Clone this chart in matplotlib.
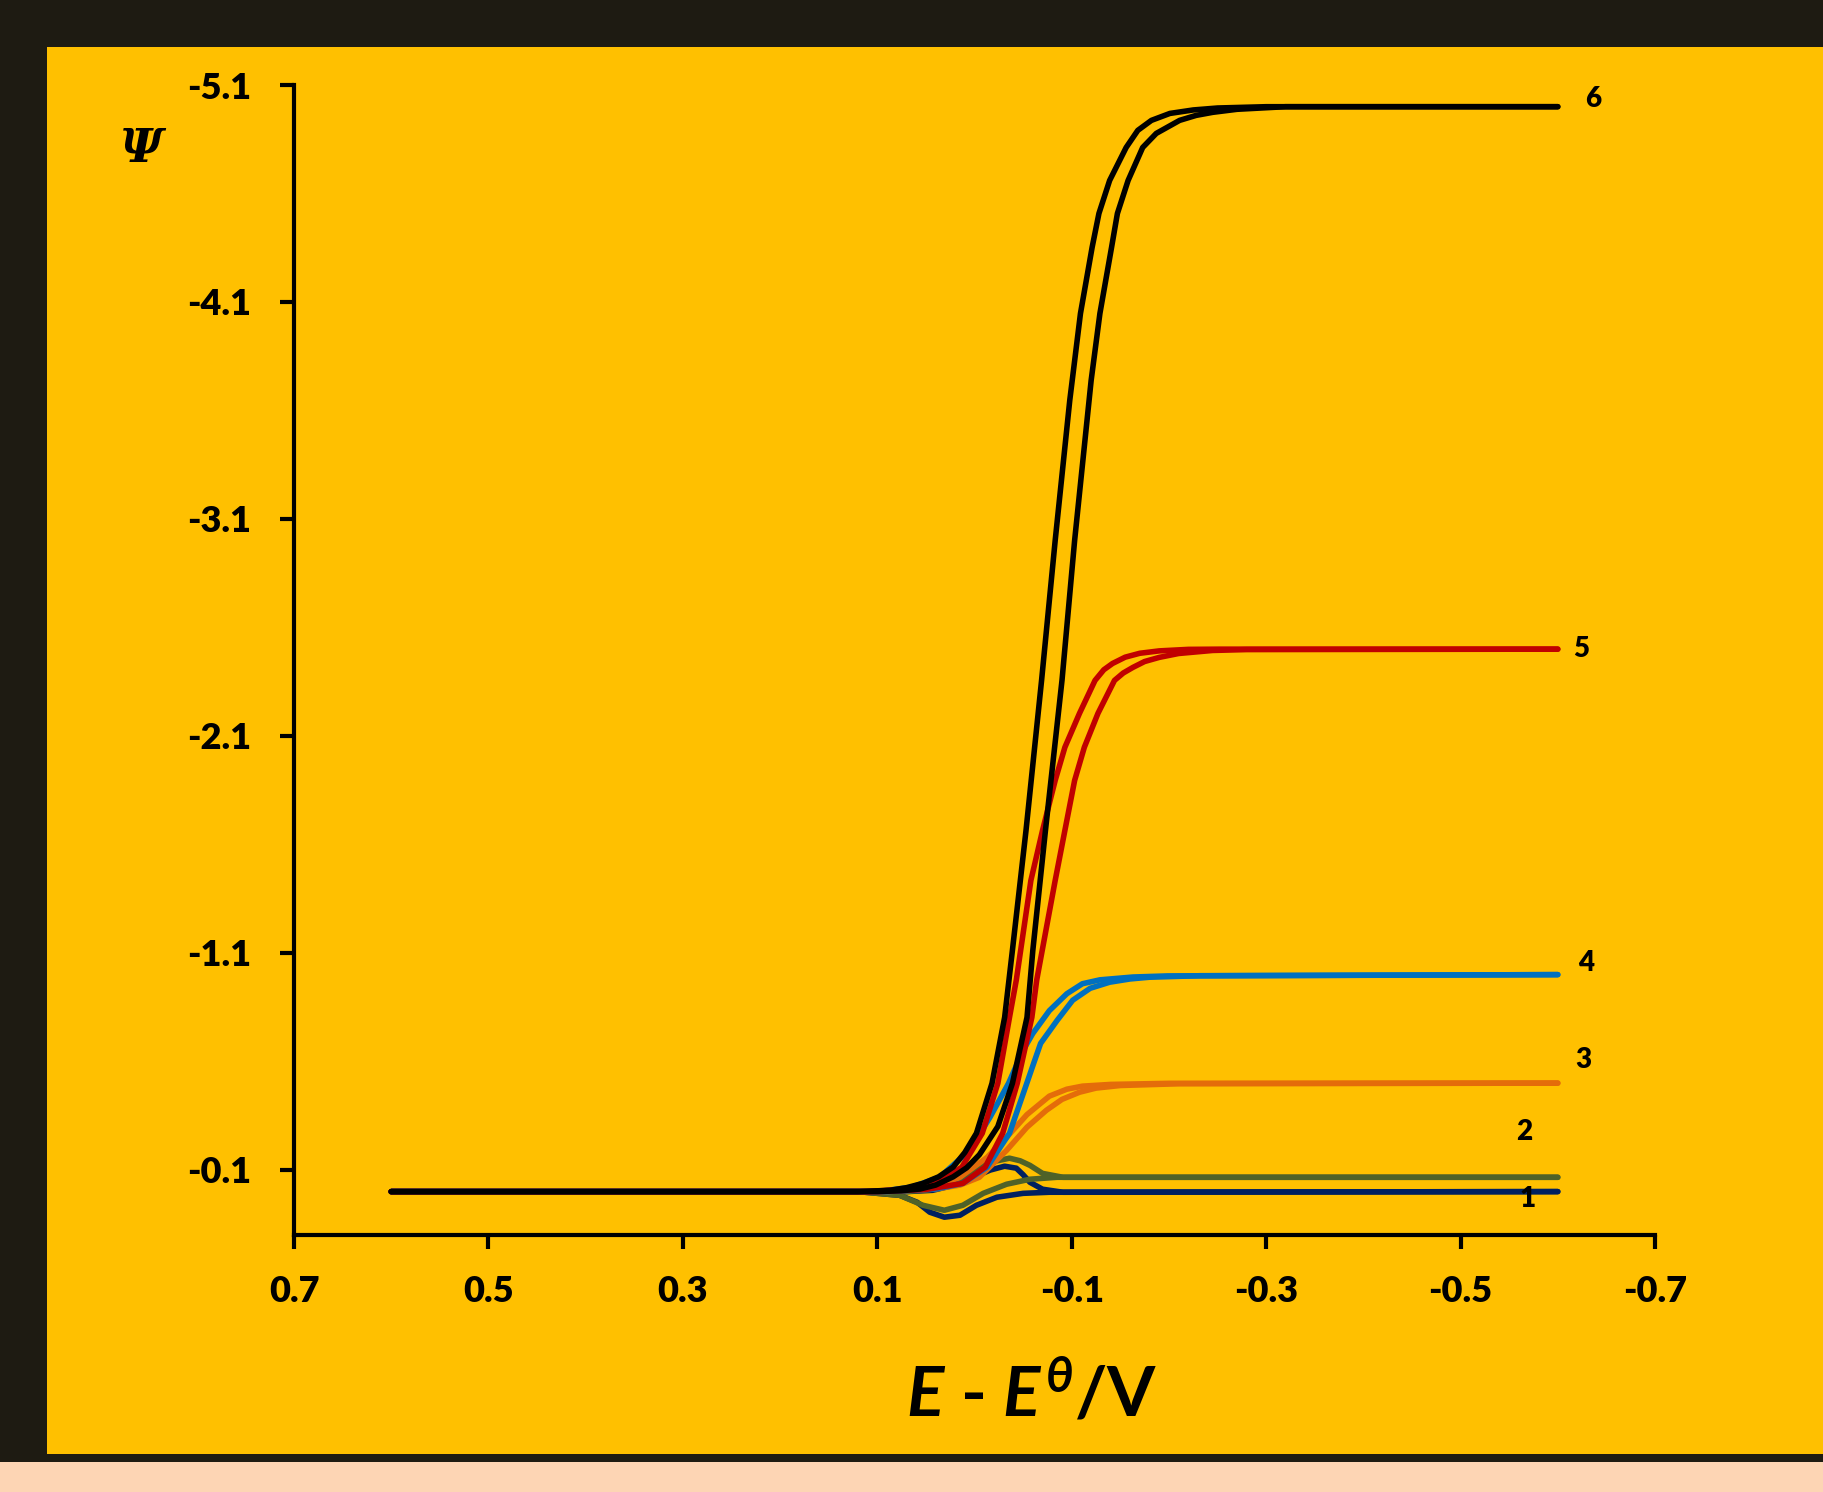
import matplotlib
matplotlib.use("Agg")
import matplotlib.pyplot as plt
from matplotlib.patches import Rectangle

# ---- data (E - E0 in V, dimensionless current psi) ----
# each series has two branches (forward / reverse sweep)
e1_a = [0.60, 0.12, 0.077, 0.059, 0.046, 0.031, 0.015, -0.002, -0.023, -0.050, -0.077, -0.60]
psi1_a = [0.0, 0.0, 0.017, 0.049, 0.095, 0.118, 0.109, 0.063, 0.026, 0.008, 0.003, 0.0]
e1_b = [0.60, 0.07, 0.043, 0.025, 0.008, -0.016, -0.031, -0.043, -0.050, -0.057, -0.070, -0.091, -0.60]
psi1_b = [0.0, 0.0, -0.006, -0.025, -0.052, -0.099, -0.117, -0.108, -0.078, -0.043, -0.011, 0.003, 0.0]

e2_a = [0.60, 0.12, 0.077, 0.053, 0.031, 0.012, -0.009, -0.033, -0.057, -0.085, -0.60]
psi2_a = [0.0, 0.0, 0.017, 0.063, 0.086, 0.063, 0.008, -0.034, -0.057, -0.066, -0.066]
e2_b = [0.60, 0.07, 0.043, 0.025, 0.008, -0.016, -0.036, -0.047, -0.057, -0.070, -0.091, -0.60]
psi2_b = [0.0, 0.0, -0.011, -0.040, -0.075, -0.135, -0.154, -0.142, -0.121, -0.084, -0.066, -0.066]

e3_a = [0.60, 0.10, 0.06, 0.035, 0.015, -0.013, -0.033, -0.054, -0.077, -0.095, -0.111, -0.14, -0.20, -0.60]
psi3_a = [0.0, 0.0, -0.01, -0.03, -0.066, -0.158, -0.250, -0.355, -0.440, -0.472, -0.486, -0.494, -0.499, -0.5]
e3_b = [0.60, 0.09, 0.04, 0.015, -0.005, -0.033, -0.054, -0.074, -0.09, -0.108, -0.125, -0.15, -0.21, -0.60]
psi3_b = [0.0, 0.0, -0.012, -0.03, -0.066, -0.190, -0.297, -0.375, -0.425, -0.458, -0.477, -0.489, -0.497, -0.5]

e4_a = [0.60, 0.10, 0.065, 0.036, 0.005, -0.016, -0.035, -0.050, -0.060, -0.077, -0.095, -0.111,
        -0.129, -0.163, -0.198, -0.60]
psi4_a = [0.0, 0.0, -0.02, -0.066, -0.190, -0.343, -0.499, -0.651, -0.729, -0.834, -0.912, -0.958,
          -0.976, -0.989, -0.994, -1.0]
e4_b = [0.60, 0.09, 0.04, 0.012, -0.013, -0.036, -0.050, -0.060, -0.068, -0.085, -0.101, -0.119,
        -0.139, -0.16, -0.18, -0.232, -0.60]
psi4_b = [0.0, 0.0, -0.012, -0.038, -0.113, -0.269, -0.45, -0.58, -0.683, -0.789, -0.882, -0.937,
          -0.965, -0.980, -0.988, -0.995, -1.0]

e5_a = [0.60, 0.11, 0.07, 0.039, 0.013, -0.008, -0.024, -0.036, -0.043, -0.058, -0.070, -0.083,
        -0.093, -0.108, -0.124, -0.133, -0.142, -0.155, -0.170, -0.19, -0.22, -0.252, -0.60]
psi5_a = [0.0, 0.0, -0.012, -0.038, -0.113, -0.269, -0.499, -0.803, -0.975, -1.434, -1.665, -1.895,
          -2.048, -2.204, -2.356, -2.405, -2.434, -2.463, -2.481, -2.492, -2.499, -2.5, -2.5]
e5_b = [0.60, 0.10, 0.05, 0.012, -0.011, -0.029, -0.044, -0.059, -0.064, -0.083, -0.093, -0.103,
        -0.113, -0.127, -0.144, -0.153, -0.163, -0.175, -0.190, -0.21, -0.245, -0.28, -0.60]
psi5_b = [0.0, 0.0, -0.01, -0.038, -0.113, -0.269, -0.499, -0.803, -0.975, -1.434, -1.665, -1.895,
          -2.048, -2.204, -2.356, -2.39, -2.416, -2.443, -2.462, -2.480, -2.494, -2.498, -2.5]

e6_a = [0.60, 0.12, 0.087, 0.07, 0.053, 0.037, 0.022, 0.01, -0.002, -0.018, -0.031, -0.039, -0.053,
        -0.069, -0.083, -0.098, -0.109, -0.121, -0.128, -0.139, -0.156, -0.168, -0.182, -0.201,
        -0.225, -0.25, -0.30, -0.60]
psi6_a = [0.0, 0.0, -0.006, -0.018, -0.038, -0.068, -0.113, -0.18, -0.269, -0.499, -0.803, -1.112, -1.665,
          -2.356, -3.001, -3.647, -4.047, -4.352, -4.508, -4.660, -4.812, -4.891, -4.937, -4.969,
          -4.985, -4.994, -5.0, -5.0]
e6_b = [0.60, 0.10, 0.075, 0.056, 0.04, 0.022, 0.008, -0.005, -0.024, -0.039, -0.054, -0.060, -0.073,
        -0.090, -0.103, -0.120, -0.129, -0.141, -0.147, -0.158, -0.173, -0.187, -0.211, -0.228,
        -0.245, -0.27, -0.32, -0.60]
psi6_b = [0.0, 0.0, -0.004, -0.012, -0.03, -0.068, -0.11, -0.17, -0.30, -0.499, -0.803, -1.112, -1.665,
          -2.356, -3.001, -3.739, -4.047, -4.352, -4.508, -4.660, -4.812, -4.877, -4.937, -4.960,
          -4.974, -4.988, -5.0, -5.0]

series_names = ['1', '2', '3', '4', '5', '6']
x_ticks = [0.7, 0.5, 0.3, 0.1, -0.1, -0.3, -0.5, -0.7]
y_ticks = [-5.1, -4.1, -3.1, -2.1, -1.1, -0.1]

colors = ['#002060', '#4F6228', '#E46C0A', '#0070C0', '#C00000', '#000000']
branches = [
    (e1_a, psi1_a, e1_b, psi1_b),
    (e2_a, psi2_a, e2_b, psi2_b),
    (e3_a, psi3_a, e3_b, psi3_b),
    (e4_a, psi4_a, e4_b, psi4_b),
    (e5_a, psi5_a, e5_b, psi5_b),
    (e6_a, psi6_a, e6_b, psi6_b),
]

plt.rcParams['font.family'] = ['Lato', 'DejaVu Sans']
plt.rcParams['mathtext.fontset'] = 'custom'
plt.rcParams['mathtext.it'] = 'Lato:italic:bold'
plt.rcParams['mathtext.rm'] = 'Lato:bold'
plt.rcParams['mathtext.bf'] = 'Lato:bold'

W, H = 1823, 1492
fig = plt.figure(figsize=(W / 100, H / 100), dpi=100, facecolor='#1E1B12')

# yellow panel and the peach strip at the bottom
fig.add_artist(Rectangle((47 / W, 38 / H), 1 - 47 / W, (1454 - 47) / H,
                         transform=fig.transFigure, facecolor='#FFC000', edgecolor='none', zorder=-2))
fig.add_artist(Rectangle((0, 0), 1, 30 / H, transform=fig.transFigure,
                         facecolor='#FDD5B4', edgecolor='none', zorder=-2))

ax = fig.add_axes([294 / W, 1 - 1235 / H, (1655 - 294) / W, (1235 - 85) / H])
ax.set_facecolor('none')

for (xa, ya, xb, yb), c in zip(branches, colors):
    ax.plot(xa, ya, color=c, lw=4.0, solid_capstyle='round', solid_joinstyle='round')
    ax.plot(xb, yb, color=c, lw=4.0, solid_capstyle='round', solid_joinstyle='round')

ax.set_xlim(0.7, -0.7)
ax.set_ylim(0.2, -5.1)
ax.set_xticks(x_ticks)
ax.set_xticklabels([f"{v:.1f}" for v in x_ticks])
ax.set_yticks(y_ticks)
ax.set_yticklabels([f"{v:.1f}" for v in y_ticks])

for s in ['top', 'right']:
    ax.spines[s].set_visible(False)
for s in ['left', 'bottom']:
    ax.spines[s].set_linewidth(3.0)
    ax.spines[s].set_color('black')
ax.tick_params(axis='both', direction='out', length=10, width=3.0, labelsize=26, colors='black')
ax.tick_params(axis='y', pad=21)
ax.tick_params(axis='x', pad=19)
for lab in ax.get_xticklabels() + ax.get_yticklabels():
    lab.set_fontweight('heavy')

# curve numbers at the right end
label_pos = [(-0.569, 0.035), (-0.565, -0.273), (-0.626, -0.605),
             (-0.629, -1.052), (-0.624, -2.499), (-0.636, -5.034)]
for name, (lx, ly) in zip(series_names, label_pos):
    ax.text(lx, ly, name, fontsize=20, fontweight='heavy', ha='center', va='center', clip_on=False)

# axis titles
fig.text(141 / W, 1 - 149 / H, 'Ψ', family='DejaVu Serif', style='italic', fontweight='bold',
         fontsize=34, ha='center', va='center')
fig.text(1032 / W, 1 - 1394 / H, r'$E$ - $E^{\theta}$/V', fontsize=50, fontweight='bold',
         ha='center', va='center')

fig.savefig('out.png', dpi=100, facecolor=fig.get_facecolor())
